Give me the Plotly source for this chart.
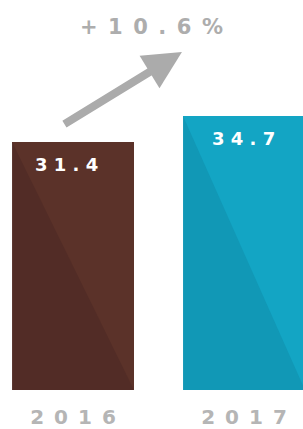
import plotly.graph_objects as go

years = ["2016", "2017"]
values = [31.4, 34.7]
colors_dark = ["#522c26", "#1198b6"]
colors_light = ["#5b3229", "#13a5c4"]
growth_label = "+10.6%"

EN = "\u2002"

def spaced(s, sep):
    return sep.join(list(s))

x_pos = [0, 1]
label_shift = [-7, -1]
BAR_W = 0.713

fig = go.Figure()
fig.add_trace(go.Bar(
    x=x_pos, y=values, width=BAR_W,
    marker=dict(color=colors_dark, line=dict(width=0)),
    hoverinfo="skip",
))

# lighter upper-right triangle (diagonal shading)
for xi, v, c in zip(x_pos, values, colors_light):
    x0, x1 = xi - BAR_W / 2, xi + BAR_W / 2
    fig.add_shape(
        type="path", xref="x", yref="y",
        path=f"M {x0},{v} L {x1},{v} L {x1},0 Z",
        fillcolor=c, line=dict(width=0), layer="above",
    )

for xi, v, sh in zip(x_pos, values, label_shift):
    fig.add_annotation(
        x=xi, y=v, xref="x", yref="y",
        text=spaced(f"{v:.1f}", " "),
        showarrow=False, yanchor="top", yshift=-10, xshift=sh,
        font=dict(family="DejaVu Sans", size=18, color="white", weight="bold"),
    )

# growth arrow
fig.add_annotation(
    x=0.637, y=42.8, xref="x", yref="y",
    ax=-119, ay=73, axref="pixel", ayref="pixel",
    text="", showarrow=True, arrowhead=2, arrowsize=0.95,
    arrowwidth=8, arrowcolor="#ababab",
)
fig.add_annotation(
    x=0.5, y=46.0, xref="paper", yref="y",
    text=spaced(growth_label, EN),
    showarrow=False,
    font=dict(family="DejaVu Sans", size=21, color="#adadad", weight="bold"),
)

fig.update_layout(
    width=303, height=429,
    margin=dict(l=0, r=0, t=0, b=39),
    paper_bgcolor="white", plot_bgcolor="white",
    showlegend=False,
    xaxis=dict(
        range=[-0.427, 1.345], tickvals=x_pos,
        ticktext=[spaced(y, EN) for y in years],
        tickfont=dict(family="DejaVu Sans", size=20, color="#b5b5b5", weight="bold"),
        ticklabelstandoff=13,
        showgrid=False, zeroline=False, showline=False, ticks="",
        fixedrange=True,
    ),
    yaxis=dict(range=[0, 49.4], visible=False, fixedrange=True),
)

fig.write_html(
    "out.html",
    config={"displayModeBar": False},
    post_script="document.body.style.margin='0';document.body.style.overflow='hidden';",
)
